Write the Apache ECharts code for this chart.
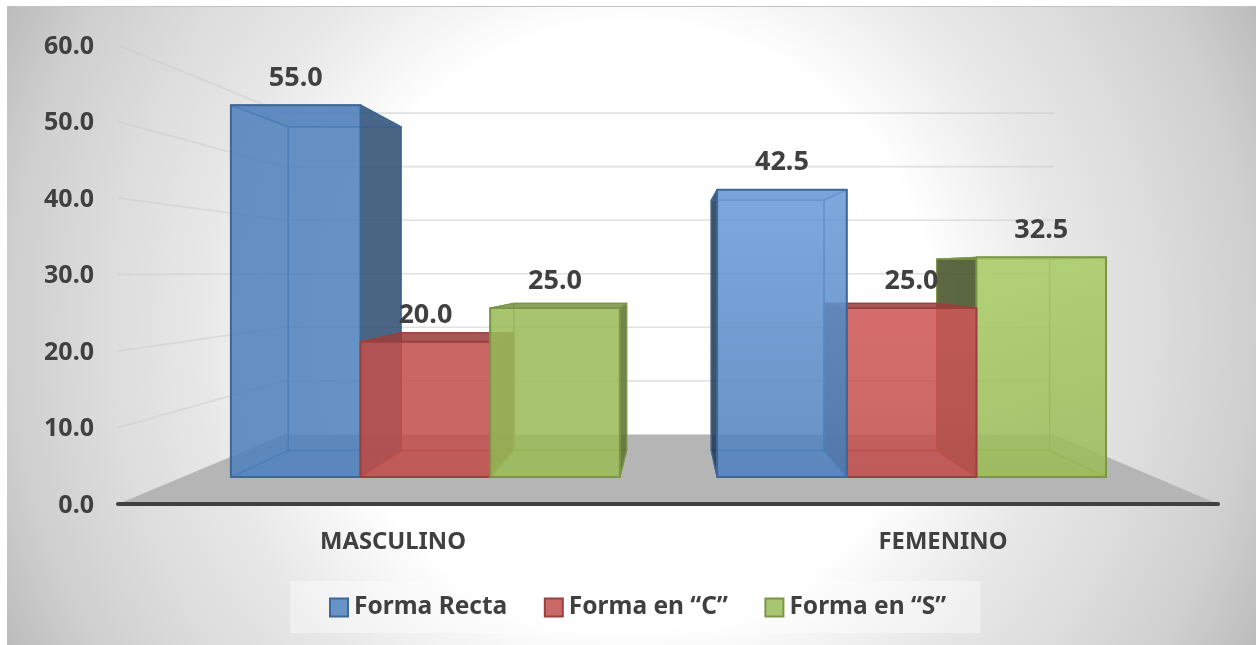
<!DOCTYPE html>
<html><head><meta charset="utf-8">
<style>html,body{margin:0;padding:0;background:#fff}#c{width:1256px;height:645px}</style>
<script src="https://cdn.jsdelivr.net/npm/echarts@6/dist/echarts.min.js"></script>
</head><body><div id="c"></div>
<script>
const categories = ['MASCULINO', 'FEMENINO'];
const seriesNames = ['Forma Recta', 'Forma en “C”', 'Forma en “S”'];
const valuesRecta = [55.0, 42.5];
const valuesC = [20.0, 25.0];
const valuesS = [25.0, 32.5];
const axisTicks = [0, 10, 20, 30, 40, 50, 60];

const FONT = '"Noto Sans"';
const TEXT = '#404040';
const baseRGB = [[79,129,189],[192,80,77],[155,187,89]];
const topRGB  = [[[79,129,189],[192,80,77],[155,187,89]],[[108,156,217],[207,87,87],[168,204,101]]];
const sideShade = [0.6, 0.42];
// perspective of the 3D scene: vanishing point and depth factors
const VP = [672, 272], FRONT = 0.884, BAR_BACK = 0.87, WALL = 0.7, BAR_W = 1 / 3.75;
const P = (x, y, s) => [VP[0] + (x - VP[0]) * s, VP[1] + (y - VP[1]) * s];
const rgba = (c, a, f = 1) => `rgba(${c.map(v => Math.round(v * f)).join(',')},${a})`;

function barItem(k) {
  return function (params, api) {
    const i = api.value(0), v = api.value(1);
    const top = api.coord([i, v]), base = api.coord([i, 0]);
    const band = api.size([1, 0])[0], w = band * BAR_W;
    const cx = top[0] + (k - 1) * w;
    const f = (x, y) => P(x, y, FRONT);
    const a = f(cx - w / 2, top[1]), b = f(cx + w / 2, top[1]), c = f(cx + w / 2, base[1]), d = f(cx - w / 2, base[1]);
    const bk = p => [VP[0] + (p[0] - VP[0]) * BAR_BACK, VP[1] + (p[1] - VP[1]) * BAR_BACK];
    const A = bk(a), B = bk(b), C = bk(c), D = bk(d);
    const col = baseRGB[k], edge = rgba(col, 1, 0.8), rank = Math.round(2000 - Math.abs((a[0] + b[0]) / 2 - VP[0])) * 10;
    const face = (pts, fill, o, stroke, lw) => ({
      type: 'polygon', z2: rank + o, shape: { points: pts },
      style: { fill, stroke: stroke || edge, lineWidth: lw || 1.2, lineJoin: 'round' }
    });
    const leftOfVP = (a[0] + b[0]) / 2 < VP[0];
    const dark = rgba(col, 0.85, sideShade[i]);
    const inner = rgba(col, 0.12);
    const frontFill = { type: 'linear', x: 0, y: 0, x2: 0, y2: 1, colorStops: [
      { offset: 0, color: rgba(topRGB[i][k], 0.85) }, { offset: 1, color: rgba(col, 0.85) } ] };
    const topDirect = top[1] * FRONT + VP[1] * (1 - FRONT) > VP[1];
    return { type: 'group', children: [
      face([A, B, C, D], inner, 0),
      face([d, c, C, D], rgba(col, 0.25), 1),
      face([a, A, D, d], leftOfVP ? inner : dark, 2),
      face([b, B, C, c], leftOfVP ? dark : inner, 3),
      face([a, b, B, A], rgba(col, topDirect ? 0.85 : 0.3, 0.78), 4),
      face([a, b, c, d], frontFill, 5, edge, 2),
      { type: 'text', z2: 100000, style: {
          text: v.toFixed(1), x: (a[0] + b[0]) / 2, y: a[1] - 27,
          font: `bold 27px ${FONT}`, fill: TEXT, align: 'center', verticalAlign: 'middle' } }
    ]};
  };
}

const option = {
  animation: false,
  graphic: [
    { type: 'rect', z: -1, x: 7, y: 6, shape: { width: 1249, height: 1 }, style: { fill: '#c4c4c4' } },
    { type: 'rect', z: -2, x: 7, y: 7, shape: { width: 1249, height: 638 }, style: { fill: {
      type: 'radial', x: 0.5, y: 0.5, r: 1.1, colorStops: [
        { offset: 0, color: '#ffffff' }, { offset: 0.43, color: '#ffffff' }, { offset: 0.61, color: '#e8e8e8' },
        { offset: 0.745, color: '#dddddd' }, { offset: 0.887, color: '#cfcfcf' }, { offset: 1, color: '#bcbcbc' } ] } } }
  ],
  grid: { left: 118, width: 1100, top: 45, height: 459 },
  legend: {
    left: 290, top: 581, padding: [14, 34, 13, 39], itemWidth: 18, itemHeight: 18, itemGap: 36.5,
    backgroundColor: 'rgba(255,255,255,0.4)',
    textStyle: { fontFamily: FONT, fontWeight: 'bold', fontSize: 24.5, color: TEXT, lineHeight: 3, verticalAlign: 'top', padding: [0, 0, 0, 1] },
    data: seriesNames.map((name, k) => ({ name, icon: 'rect',
      itemStyle: { color: rgba(baseRGB[k], 0.85), borderColor: rgba(baseRGB[k], 1, 0.8), borderWidth: 2 } }))
  },
  xAxis: { type: 'category', data: categories, z: 2,
    axisLine: { lineStyle: { color: '#404040', width: 4, cap: 'round' } }, axisTick: { show: false }, splitLine: { show: false },
    axisLabel: { margin: 26, fontFamily: FONT, fontWeight: 'bold', fontSize: 23.8, color: TEXT } },
  yAxis: { type: 'value', min: axisTicks[0], max: axisTicks[axisTicks.length - 1], interval: 10,
    axisLine: { show: false }, axisTick: { show: false }, splitLine: { show: false },
    axisLabel: { margin: 24, fontFamily: FONT, fontWeight: 'bold', fontSize: 25, color: TEXT, lineHeight: 3, verticalAlign: 'top', formatter: v => v.toFixed(1) } },
  series: [
    { type: 'custom', z: 1, silent: true, coordinateSystem: 'cartesian2d', data: [[0, 0]],
      renderItem(params, api) {
        const s = params.coordSys, y0 = s.y + s.height, L = s.x, R = s.x + s.width;
        return { type: 'polygon', shape: { points: [[L, y0], [R, y0], P(R, y0, WALL), P(L, y0, WALL)] }, style: { fill: '#b5b5b5' } };
      } },
    { type: 'custom', z: 1, silent: true, coordinateSystem: 'cartesian2d', data: axisTicks.slice(1).map(t => [0, t]),
      renderItem(params, api) {
        const s = params.coordSys, y = api.coord([0, api.value(1)])[1];
        return { type: 'polyline', z2: 5, shape: { points: [[s.x, y], P(s.x, y, WALL), P(s.x + s.width, y, WALL)] },
          style: { fill: 'none', stroke: 'rgba(205,205,205,0.6)', lineWidth: 1.6 } };
      } },
    ...[valuesRecta, valuesC, valuesS].map((vals, k) => ({
      name: seriesNames[k], type: 'custom', z: 2, coordinateSystem: 'cartesian2d', clip: false,
      itemStyle: { color: rgba(baseRGB[k], 0.85) },
      encode: { x: 0, y: 1 },
      data: vals.map((v, i) => [i, v]), renderItem: barItem(k)
    }))
  ]
};
const chart = echarts.init(document.getElementById('c'), null, { renderer: 'canvas' });
chart.setOption(option);
</script></body></html>
